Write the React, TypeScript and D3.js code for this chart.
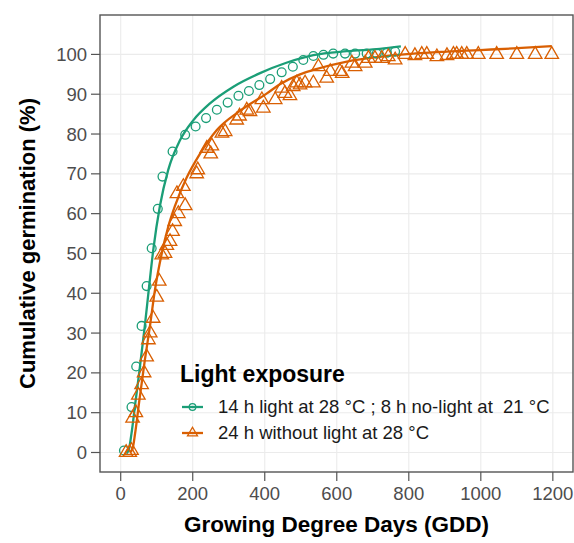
import React from "react";
import * as d3 from "d3";

// Observed germination – 14 h light at 28 °C ; 8 h no-light at 21 °C
const lightX = [9, 30, 43, 58, 72, 86, 103, 116, 144, 179, 208, 237, 267, 297, 327, 356, 385, 415, 447, 478, 507, 535, 563, 590, 623, 651, 683, 711, 739, 762];
const lightY = [0.5, 11.4, 21.6, 31.8, 41.8, 51.3, 61.2, 69.3, 75.6, 79.8, 81.9, 84, 86.1, 87.9, 89.6, 90.8, 92.3, 93.8, 95.5, 96.9, 98.6, 99.6, 99.9, 100.2, 100.2, 100.2, 100.2, 100.2, 100.4, 100.7];

// Fitted curve – light treatment
const lightFitX = [15, 22, 30, 40, 52, 67, 79, 91, 109, 132, 165, 202, 248, 313, 387, 460, 535, 628, 720, 778];
const lightFitY = [0, 0.6, 4.8, 12, 20.5, 31.8, 41.8, 51.3, 62, 71, 78.5, 83.5, 87.7, 91.9, 95.3, 97.9, 99.8, 100.8, 101.4, 102];

// Observed germination – 24 h without light at 28 °C
const darkX = [15, 25, 30, 33, 42, 49, 58, 65, 72, 77, 82, 90, 100, 107, 114, 123, 128, 137, 144, 150, 160, 156, 174, 179, 211, 214, 239, 253, 250, 281, 290, 322, 330, 350, 359, 392, 396, 429, 447, 456, 470, 479, 489, 498, 512, 535, 549, 572, 582, 609, 615, 642, 651, 679, 688, 706, 725, 743, 762, 790, 817, 836, 850, 878, 906, 924, 933, 947, 961, 993, 1044, 1100, 1151, 1197];
const darkY = [0, 0, 0.5, 8.6, 10, 14.4, 17, 20, 24, 28.3, 30, 33.7, 39, 43, 49.6, 50, 52, 53, 55.5, 58, 60, 65, 66.8, 62, 70, 71, 76.4, 77, 75, 80.2, 80.6, 83.5, 84.5, 86, 85.6, 88.6, 86.5, 88.6, 91.5, 90.2, 89.6, 91.9, 92.8, 92.3, 92.8, 92.8, 96.9, 94, 95.7, 95.7, 95.2, 97.8, 96.9, 97.8, 99, 99, 99, 99.4, 98.6, 100, 99.7, 100, 100, 99.4, 99.7, 100, 100, 100, 100, 100, 100, 100, 100, 100];

// Fitted curve – dark treatment
const darkFitX = [25, 33, 40, 52, 67, 81, 95, 114, 132, 151, 183, 220, 267, 331, 406, 442, 498, 535, 628, 720, 813, 906, 998, 1090, 1197];
const darkFitY = [0, 1, 4.8, 13.2, 23.2, 31.6, 40.8, 50, 56.7, 62, 69, 75, 81, 85.8, 90.2, 92.5, 95, 96.1, 98.2, 99.4, 100.2, 100.7, 101.1, 101.5, 102.1];

const xTicks = [0, 200, 400, 600, 800, 1000, 1200];
const yTicks = [0, 10, 20, 30, 40, 50, 60, 70, 80, 90, 100];

const legendTitle = "Light exposure";
const legendLabels = ["14 h light at 28 °C ; 8 h no-light at  21 °C", "24 h without light at 28 °C"];

const GREEN = "#1B9E77";
const ORANGE = "#D95F02";
const FONT = "'Liberation Sans', Arial, Helvetica, sans-serif";

export default function App() {
  const W = 574, H = 543;
  const left = 100, right = 573, top = 15, bottom = 472;
  const x = d3.scaleLinear().domain([-57.5, 1256]).range([left, right]);
  const y = d3.scaleLinear().domain([-4.9, 109.9]).range([bottom, top]);

  const line = d3
    .line<[number, number]>()
    .x((d) => x(d[0]))
    .y((d) => y(d[1]))
    .curve(d3.curveMonotoneX);

  const lightFit: [number, number][] = lightFitX.map((v, i) => [v, lightFitY[i]]);
  const darkFit: [number, number][] = darkFitX.map((v, i) => [v, darkFitY[i]]);

  const tri = (cx: number, cy: number, s: number) => {
    const h = (s * Math.sqrt(3)) / 2;
    return `M${cx},${cy - (2 * h) / 3}L${cx + s / 2},${cy + h / 3}L${cx - s / 2},${cy + h / 3}Z`;
  };

  const legX0 = 182, legX1 = 203;
  const legRows = [407, 433];

  return (
    <svg
      width={W}
      height={H}
      style={{ position: "absolute", left: 0, top: 0, display: "block", background: "#fff" }}
      fontFamily={FONT}
    >
      <rect x={0} y={0} width={W} height={H} fill="#fff" />
      {/* grid */}
      <g stroke="#EBEBEB" strokeWidth={1.1}>
        {yTicks.map((t) => (
          <line key={"gy" + t} x1={left} x2={right} y1={y(t)} y2={y(t)} />
        ))}
        {xTicks.map((t) => (
          <line key={"gx" + t} y1={top} y2={bottom} x1={x(t)} x2={x(t)} />
        ))}
      </g>

      {/* fitted curves */}
      <path d={line(lightFit) || ""} fill="none" stroke={GREEN} strokeWidth={2.3} />
      <path d={line(darkFit) || ""} fill="none" stroke={ORANGE} strokeWidth={2.3} />

      {/* observed points */}
      <g fill="none" stroke={GREEN} strokeWidth={1.3}>
        {lightX.map((v, i) => (
          <circle key={"c" + i} cx={x(v)} cy={y(lightY[i])} r={4.4} />
        ))}
      </g>
      <g fill="none" stroke={ORANGE} strokeWidth={1.3}>
        {darkX.map((v, i) => (
          <path key={"t" + i} d={tri(x(v), y(darkY[i]), 13.5)} />
        ))}
      </g>

      {/* panel border */}
      <rect x={left} y={top} width={right - left} height={bottom - top} fill="none" stroke="#555" strokeWidth={1.4} />

      {/* y axis ticks */}
      <g>
        {yTicks.map((t) => (
          <g key={"ty" + t}>
            <line x1={left - 9} x2={left} y1={y(t)} y2={y(t)} stroke="#555" strokeWidth={1.2} />
            <text x={left - 13} y={y(t)} dy="0.35em" textAnchor="end" fontSize={18.5} fill="#4D4D4D">
              {t}
            </text>
          </g>
        ))}
      </g>
      {/* x axis ticks */}
      <g>
        {xTicks.map((t) => (
          <g key={"tx" + t}>
            <line x1={x(t)} x2={x(t)} y1={bottom} y2={bottom + 9} stroke="#555" strokeWidth={1.2} />
            <text x={x(t)} y={500} textAnchor="middle" fontSize={18.5} fill="#4D4D4D">
              {t}
            </text>
          </g>
        ))}
      </g>

      {/* axis titles */}
      <text x={(left + right) / 2} y={532} textAnchor="middle" fontSize={22.5} fontWeight="bold" fill="#000">
        Growing Degree Days (GDD)
      </text>
      <text
        transform={`translate(35,${(top + bottom) / 2}) rotate(-90)`}
        textAnchor="middle"
        fontSize={22}
        fontWeight="bold"
        fill="#000"
      >
        Cumulative germination (%)
      </text>

      {/* legend */}
      <text x={180} y={382} fontSize={23} fontWeight="bold" fill="#000">
        {legendTitle}
      </text>
      {legendLabels.map((lab, i) => {
        const cy = legRows[i];
        const col = i === 0 ? GREEN : ORANGE;
        const mx = (legX0 + legX1) / 2;
        return (
          <g key={"leg" + i}>
            <line x1={legX0} x2={legX1} y1={cy} y2={cy} stroke={col} strokeWidth={2.3} />
            {i === 0 ? (
              <circle cx={mx} cy={cy} r={3.3} fill="none" stroke={col} strokeWidth={1.3} />
            ) : (
              <path d={tri(mx, cy, 10)} fill="none" stroke={col} strokeWidth={1.3} />
            )}
            <text x={218} y={cy} dy="0.35em" fontSize={18.5} fill="#1a1a1a" style={{ whiteSpace: "pre" }}>
              {lab}
            </text>
          </g>
        );
      })}
    </svg>
  );
}
